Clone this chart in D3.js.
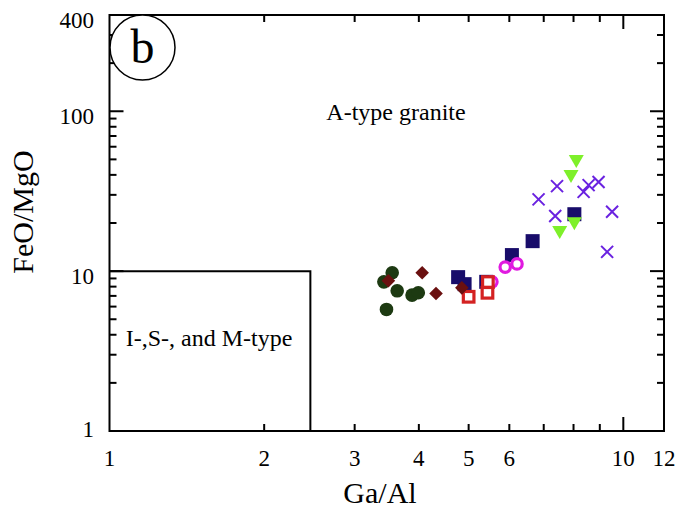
<!DOCTYPE html>
<html><head><meta charset="utf-8">
<script src="https://cdn.jsdelivr.net/npm/d3@7"></script>
<style>
body{margin:0;background:#fff}
svg{display:block}
text{font-family:"Liberation Serif","Times New Roman",Times,serif;fill:#000}
</style>
</head><body>
<svg id="chart" width="676" height="515"></svg>
<script>
// ---- data ----
const xTickLabels = [1, 2, 3, 4, 5, 6, 10, 12];
const yTickLabels = [1, 10, 100, 400];
const xMinorTicks = [2, 3, 4, 5, 6, 7, 8, 9];
const xMajorTicks = [10];
const yMinorTicks = [2, 3, 4, 5, 6, 7, 8, 9, 20, 30, 40, 50, 60, 70, 80, 90, 200, 300];
const yMajorTicks = [10, 100];
const boundaryGaAl = 2.46;   // I/S/M-type field boundary
const boundaryFeO = 10;

const greenCircles   = [[3.55, 9.76], [3.42, 8.57], [3.63, 7.53], [3.88, 7.08], [3.99, 7.32], [3.46, 5.76]];
const navySquares    = [[4.77, 9.17], [4.91, 8.29], [5.41, 8.57], [6.07, 12.6], [6.66, 15.4], [8.03, 22.7]];
const magentaCircles = [[5.55, 8.57], [5.89, 10.6], [6.21, 11.1]];
const redOpenSquares = [[5.00, 6.91], [5.45, 8.54], [5.44, 7.32]];
const maroonDiamonds = [[3.49, 8.70], [4.06, 9.76], [4.32, 7.25], [4.85, 7.86]];
const greenTriangles = [[8.10, 48.9], [7.91, 39.3], [7.52, 17.6], [8.03, 19.9]];
const purpleCrosses  = [[7.43, 34.0], [6.84, 28.1], [7.37, 22.1], [8.37, 31.3], [8.56, 34.5], [8.95, 36.1], [9.51, 23.5], [9.30, 13.2]];

// ---- layout ----
const svg = d3.select("#chart");
const L = 109.5, R = 664, T = 15, B = 431;
const x = d3.scaleLog().domain([1, 12]).range([L, R]);
const y = d3.scaleLog().domain([1, 400]).range([B, T]);

// frame
svg.append("rect").attr("x", L).attr("y", T).attr("width", R - L).attr("height", B - T)
  .attr("fill", "none").attr("stroke", "#000").attr("stroke-width", 2);

// ticks (inward on all four sides)
const tk = svg.append("g").attr("stroke", "#000").attr("stroke-width", 2);
const minorLen = 7, majorLen = 14;
function xTick(v, len) {
  tk.append("line").attr("x1", x(v)).attr("x2", x(v)).attr("y1", B).attr("y2", B - len);
  tk.append("line").attr("x1", x(v)).attr("x2", x(v)).attr("y1", T).attr("y2", T + len);
}
function yTick(v, len) {
  tk.append("line").attr("y1", y(v)).attr("y2", y(v)).attr("x1", L).attr("x2", L + len);
  tk.append("line").attr("y1", y(v)).attr("y2", y(v)).attr("x1", R).attr("x2", R - len);
}
xMinorTicks.forEach(v => xTick(v, minorLen));
xMajorTicks.forEach(v => xTick(v, majorLen));
yMinorTicks.forEach(v => yTick(v, minorLen));
yMajorTicks.forEach(v => yTick(v, majorLen));

// tick labels
svg.append("g").selectAll("text").data(xTickLabels).join("text")
  .attr("x", d => x(d)).attr("y", 466).attr("text-anchor", "middle")
  .attr("font-size", 23).text(d => d);
svg.append("g").selectAll("text").data(yTickLabels).join("text")
  .attr("x", 94).attr("y", d => Math.min(y(d) + 13, 437)).attr("text-anchor", "end")
  .attr("font-size", 23).text(d => d);

// axis titles
svg.append("text").attr("x", 380).attr("y", 503).attr("text-anchor", "middle")
  .attr("font-size", 30).text("Ga/Al");
svg.append("text").attr("transform", "translate(33,212) rotate(-90)").attr("text-anchor", "middle")
  .attr("font-size", 30).text("FeO/MgO");

// field boundary
svg.append("path")
  .attr("d", `M${x(1)},${y(boundaryFeO)}H${x(boundaryGaAl)}V${y(1)}`)
  .attr("fill", "none").attr("stroke", "#000").attr("stroke-width", 2);

// field labels
svg.append("text").attr("x", 396).attr("y", 120).attr("text-anchor", "middle")
  .attr("font-size", 24).text("A-type granite");
svg.append("text").attr("x", 209).attr("y", 346).attr("text-anchor", "middle")
  .attr("font-size", 24).text("I-,S-, and M-type");

// panel label
svg.append("circle").attr("cx", 142.5).attr("cy", 47.5).attr("r", 32.5)
  .attr("fill", "#fff").attr("stroke", "#000").attr("stroke-width", 1.5);
svg.append("text").attr("x", 142.5).attr("y", 63).attr("text-anchor", "middle")
  .attr("font-size", 48).text("b");

// ---- markers ----
const g = svg.append("g");
// dark green filled circles
g.selectAll(".gc").data(greenCircles).join("circle").attr("class", "gc")
  .attr("cx", d => x(d[0])).attr("cy", d => y(d[1])).attr("r", 6.8).attr("fill", "#1d3a12");
// navy filled squares
g.selectAll(".ns").data(navySquares).join("rect").attr("class", "ns")
  .attr("x", d => x(d[0]) - 7).attr("y", d => y(d[1]) - 7).attr("width", 14).attr("height", 14)
  .attr("fill", "#180c6a");
// magenta open circles
g.selectAll(".mc").data(magentaCircles).join("circle").attr("class", "mc")
  .attr("cx", d => x(d[0])).attr("cy", d => y(d[1])).attr("r", 5.2)
  .attr("fill", "#fff").attr("stroke", "#e01ae0").attr("stroke-width", 3.2);
// red open squares
g.selectAll(".rs").data(redOpenSquares).join("rect").attr("class", "rs")
  .attr("x", d => x(d[0]) - 5.3).attr("y", d => y(d[1]) - 5.3).attr("width", 10.6).attr("height", 10.6)
  .attr("fill", "#fff").attr("stroke", "#d42222").attr("stroke-width", 3.2);
// maroon diamonds
g.selectAll(".md").data(maroonDiamonds).join("rect").attr("class", "md")
  .attr("x", -4.8).attr("y", -4.8).attr("width", 9.6).attr("height", 9.6)
  .attr("transform", d => `translate(${x(d[0])},${y(d[1])}) rotate(45)`)
  .attr("fill", "#6a1010");
// green downward triangles
g.selectAll(".gt").data(greenTriangles).join("path").attr("class", "gt")
  .attr("d", d => { const cx = x(d[0]), cy = y(d[1]); return `M${cx - 7.5},${cy - 6}L${cx + 7.5},${cy - 6}L${cx},${cy + 7}Z`; })
  .attr("fill", "#7ef02a");
// purple crosses
g.selectAll(".pc").data(purpleCrosses).join("path").attr("class", "pc")
  .attr("d", d => { const cx = x(d[0]), cy = y(d[1]), s = 6; return `M${cx - s},${cy - s}L${cx + s},${cy + s}M${cx - s},${cy + s}L${cx + s},${cy - s}`; })
  .attr("fill", "none").attr("stroke", "#6a22e0").attr("stroke-width", 2);
</script>
</body></html>
